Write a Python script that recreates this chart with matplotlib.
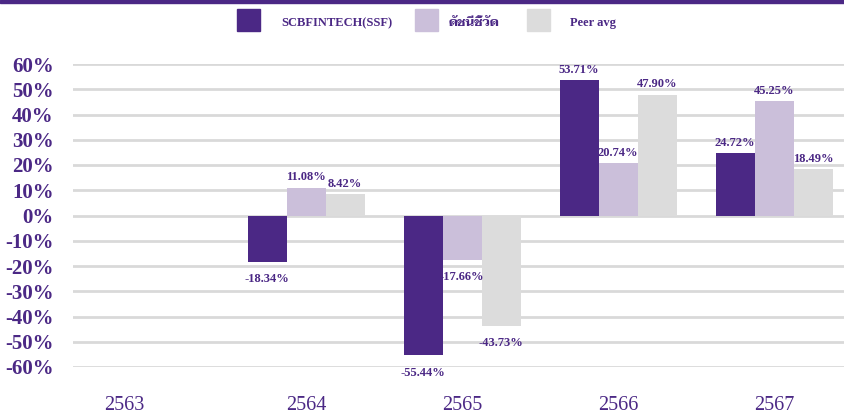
import numpy as np
import matplotlib
matplotlib.use("Agg")
import matplotlib.pyplot as plt
import matplotlib.transforms as mtransforms
from matplotlib.patches import Rectangle
from matplotlib import font_manager as fm

years = ["2563", "2564", "2565", "2566", "2567"]
fund = [np.nan, -18.34, -55.44, 53.71, 24.72]
bench = [np.nan, 11.08, -17.66, 20.74, 45.25]
peer = [np.nan, 8.42, -43.73, 47.90, 18.49]
series_names = ["SCBFINTECH(SSF)", "ดัชนีชี้วัด", "Peer avg"]
yticks = [-60, -50, -40, -30, -20, -10, 0, 10, 20, 30, 40, 50, 60]

PURPLE = "#4B2885"
LIGHT = "#CBBFDA"
GRAY = "#DCDCDC"
TXT = "#4B2885"

installed = {f.name for f in fm.fontManager.ttflist}
thai = next((n for n in ["Taviraj", "Trirong", "Noto Serif Thai", "Sarabun",
                          "Noto Sans Thai", "Athiti", "Anuphan"] if n in installed), "DejaVu Sans")
FAM = ["Liberation Serif", thai, "DejaVu Sans"]

fig = plt.figure(figsize=(8.45, 4.2), dpi=100)
ax = fig.add_axes([73/845, 1-367/420, (845-73)/845, (367-64)/420])

x = np.arange(len(years))
w = 0.25
colors = [PURPLE, LIGHT, GRAY]
data = [fund, bench, peer]
for i, (vals, c) in enumerate(zip(data, colors)):
    xs = x + (i - 1) * w
    ax.bar(xs, vals, width=w, color=c, zorder=3)
    for xi, v in zip(xs, vals):
        if np.isnan(v):
            continue
        if v >= 0:
            ax.annotate(f"{v:.2f}%", (xi, v), xytext=(0, 3), textcoords="offset points",
                        ha="center", va="bottom", fontsize=9, fontweight="bold",
                        color=TXT, family=FAM, zorder=4)
        else:
            ax.annotate(f"{v:.2f}%", (xi, v), xytext=(0, -8), textcoords="offset points",
                        ha="center", va="top", fontsize=9, fontweight="bold",
                        color=TXT, family=FAM, zorder=4)

ax.set_xlim(-0.494, 4.455)
ax.set_ylim(-60, 60)
ax.set_yticks(yticks)
ax.set_yticklabels([f"{t}%" for t in yticks], fontsize=15, fontweight="bold",
                   color=TXT, family=FAM)
ax.set_xticks(x)
ax.set_xticklabels(years, fontsize=14.5, color=TXT, family=FAM)
ax.tick_params(axis="y", length=0, pad=14)
ax.tick_params(axis="x", length=0, pad=21)
ax.grid(axis="y", color="#D9D9D9", linewidth=2, zorder=0)
for s in ax.spines.values():
    s.set_visible(False)

# first year label sits left of its slot in the reference
lbl = ax.xaxis.get_major_ticks()[0].label1
lbl.set_transform(lbl.get_transform() +
                  mtransforms.ScaledTranslation(-26/100, 0, fig.dpi_scale_trans))

# top border
fig.patches.append(Rectangle((0, 1-3/420), 1, 3/420, transform=fig.transFigure,
                             color=PURPLE, zorder=10))

# legend
leg_boxes = [237, 415, 527]
leg_texts = [281, 449, 570]
for bx, tx, c, name in zip(leg_boxes, leg_texts, colors, series_names):
    fig.patches.append(Rectangle((bx/845, 1-31/420), 23/845, 22/420,
                                 transform=fig.transFigure, color=c))
    fig.text(tx/845, 1-23/420, name, ha="left", va="center", fontsize=9,
             fontweight="bold", color=TXT, family=FAM)

fig.savefig("out.png", dpi=100)
